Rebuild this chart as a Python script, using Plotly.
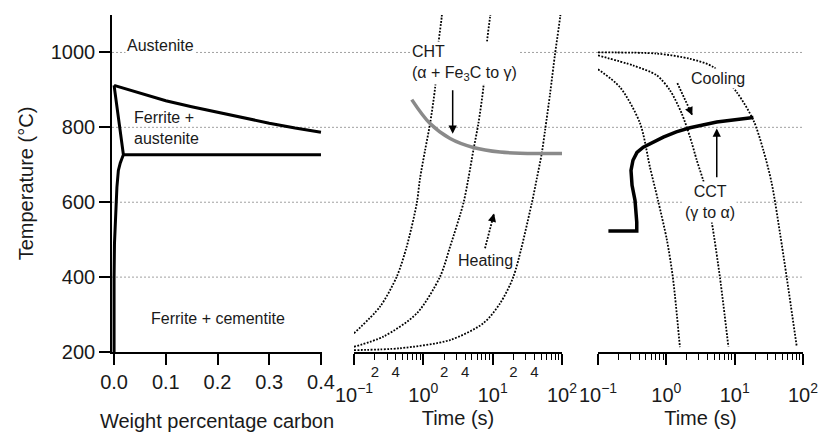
import numpy as np
import plotly.graph_objects as go

# ---------------- data ----------------
# Left panel: Fe-C phase diagram (wt% C, temperature degC)
a3_c = [0.0, 0.05, 0.1, 0.15, 0.2, 0.25, 0.3, 0.35, 0.4]
a3_T = [912, 891, 871, 855, 840, 825, 811, 798, 787]
a1_c = [0.018, 0.4]
a1_T = [727, 727]
fer_c = [0.0, 0.009, 0.018, 0.012, 0.0083, 0.0055, 0.0039, 0.0022, 0.0008, 0.0, 0.0]
fer_T = [912, 819, 727, 705, 685, 640, 597, 545, 490, 400, 200]

# Middle panel: heating curves (time s, temperature degC)
h1_t = [0.1, 0.237, 0.413, 0.575, 0.804, 0.895, 1.06, 1.25, 1.48, 1.65, 1.84, 1.87]
h1_T = [250, 321, 401, 481, 597, 663, 739, 810, 907, 1023, 1094, 1110]
h2_t = [0.1, 0.265, 0.804, 1.74, 2.43, 3.78, 4.46, 5.27, 6.22, 7.35, 8.22, 9.16, 9.4]
h2_T = [214, 241, 303, 401, 481, 597, 663, 739, 810, 907, 1023, 1094, 1110]
h3_t = [0.1, 0.461, 2.43, 7.35, 12.8, 19.9, 36.6, 43.3, 51.0, 57.0, 67.3, 79.4, 94.0, 96.0]
h3_T = [205, 210, 232, 277, 330, 401, 597, 663, 730, 792, 890, 996, 1094, 1110]
# CHT curve
cht_t = [0.681, 1.25, 2.43, 5.27, 12.8, 51.0, 100.0]
cht_T = [874, 810, 770, 746, 734, 730, 730]

# Right panel: cooling curves
c1_t = [0.1, 0.21, 0.412, 0.577, 0.755, 1.02, 1.25, 1.58]
c1_T = [955, 907, 811, 693, 605, 499, 397, 213]
c2_t = [0.1, 0.329, 0.723, 1.13, 1.68, 2.22, 2.79, 3.69, 4.62, 6.11, 8.09]
c2_T = [992, 965, 939, 899, 837, 774, 712, 641, 547, 397, 214]
c3_t = [0.1, 0.723, 2.22, 4.88, 10.7, 18.8, 26.3, 34.9, 46.2, 58.0, 81.1]
c3_T = [1000, 997, 983, 961, 894, 819, 739, 650, 516, 397, 214]
# CCT curve
cct_t = [0.142, 0.369, 0.369, 0.348, 0.315, 0.304, 0.325, 0.372, 0.46, 0.62, 0.904, 1.4, 2.22, 5.47, 18.8]
cct_T = [523, 523, 547, 605, 645, 685, 712, 733, 747, 760, 774, 788, 799, 814, 826]

# arrows (time, temperature): head and tail
cht_arrow = dict(head=(2.65, 783), tail=(2.65, 903))
cct_arrow = dict(head=(5.47, 797), tail=(5.47, 663))
heat_arrow = dict(head=(10.47, 570), tail=(7.76, 477))
cool_arrow = dict(head=(2.40, 832), tail=(1.45, 918))

# ticks
temp_ticks = [200, 400, 600, 800, 1000]
grid_temps = [400, 600, 800, 1000]
carbon_ticks = [0.0, 0.1, 0.2, 0.3, 0.4]
carbon_text = ["0.0", "0.1", "0.2", "0.3", "0.4"]
time_major = [0.1, 1, 10, 100]
time_major_text = ["10<sup>\u22121</sup>", "10<sup>0</sup>", "10<sup>1</sup>", "10<sup>2</sup>"]
time_minor = [m * d for d in (0.1, 1, 10) for m in range(2, 10)]
time_lab = [0.2, 0.4, 2, 4, 20, 40]
time_lab_text = ["2", "4", "2", "4", "2", "4"]

# ---------------- figure ----------------
FONT = "Liberation Sans, Arial, Helvetica, sans-serif"
TXT = "#1a1a1a"
fig = go.Figure()

blk = dict(color="black", width=3)
fig.add_trace(go.Scatter(x=a3_c, y=a3_T, mode="lines", line=blk, xaxis="x", yaxis="y"))
fig.add_trace(go.Scatter(x=a1_c, y=a1_T, mode="lines", line=blk, xaxis="x", yaxis="y"))
fig.add_trace(go.Scatter(x=fer_c, y=fer_T, mode="lines", line=blk, xaxis="x", yaxis="y"))

dot = dict(color="black", width=1.8, dash="1.8px,1.5px", shape="spline", smoothing=0.8)
for tt, TT in [(h1_t, h1_T), (h2_t, h2_T), (h3_t, h3_T)]:
    fig.add_trace(go.Scatter(x=tt, y=TT, mode="lines", line=dot, xaxis="x2", yaxis="y"))
fig.add_trace(go.Scatter(x=cht_t, y=cht_T, mode="lines",
                         line=dict(color="#8a8a8a", width=3.5, shape="spline"), xaxis="x2", yaxis="y"))
for tt, TT in [(c1_t, c1_T), (c2_t, c2_T), (c3_t, c3_T)]:
    fig.add_trace(go.Scatter(x=tt, y=TT, mode="lines", line=dot, xaxis="x3", yaxis="y"))
fig.add_trace(go.Scatter(x=cct_t, y=cct_T, mode="lines",
                         line=dict(color="black", width=3.5), xaxis="x3", yaxis="y"))

# dotted arrow shafts
for arr, xa in [(heat_arrow, "x2"), (cool_arrow, "x3")]:
    fig.add_trace(go.Scatter(x=[arr["tail"][0], arr["head"][0]], y=[arr["tail"][1], arr["head"][1]],
                             mode="lines", line=dict(color="black", width=1.8, dash="1.8px,1.5px"),
                             xaxis=xa, yaxis="y"))
# dummy trace to register overlay axis
fig.add_trace(go.Scatter(x=[], y=[], xaxis="x4", yaxis="y"))

annotations = []
def txt(x, y, text, xref="x", size=16, bg="white", xanchor="center", align="center"):
    annotations.append(dict(x=x, y=y, xref=xref, yref="y", text=text, showarrow=False,
                            font=dict(size=size, color=TXT, family=FONT), bgcolor=bg,
                            xanchor=xanchor, yanchor="middle", align=align, borderpad=1))

txt(0.089, 1019, "Austenite")
txt(0.035, 797, "Ferrite +<br>austenite", bg="rgba(0,0,0,0)", xanchor="left", align="left")
txt(0.2, 290, "Ferrite + cementite", bg="rgba(0,0,0,0)")
txt(np.log10(0.643), 971, "CHT<br>(\u03b1 + Fe<sub>3</sub>C to \u03b3)", xref="x2", xanchor="left", align="left")
txt(np.log10(7.98), 445, "Heating", xref="x2")
txt(np.log10(5.62), 930, "Cooling", xref="x3")
txt(np.log10(4.36), 601, "CCT<br>(\u03b3 to \u03b1)", xref="x3")

def arrow(arr, xref, frac=1.0):
    hx, hy = np.log10(arr["head"][0]), arr["head"][1]
    tx, ty = np.log10(arr["tail"][0]), arr["tail"][1]
    annotations.append(dict(x=hx, y=hy, xref=xref, yref="y",
                            ax=hx + frac * (tx - hx), ay=hy + frac * (ty - hy),
                            axref=xref, ayref="y", text="", showarrow=True,
                            arrowhead=2, arrowsize=1.1, arrowwidth=1.5, arrowcolor="black"))

arrow(cht_arrow, "x2")
arrow(cct_arrow, "x3")
arrow(heat_arrow, "x2", 0.12)
arrow(cool_arrow, "x3", 0.12)

shapes = [dict(type="line", xref="paper", x0=0, x1=1, yref="y", y0=T, y1=T, layer="below",
               line=dict(color="#a0a0a0", width=1, dash="2px,2px")) for T in grid_temps]

W, H = 822, 432
L, R, T, B = 112, 19, 15, 80
pw = W - L - R
def dom(a, b):
    return [(a - L) / pw, (b - L) / pw]

axis_common = dict(showgrid=False, zeroline=False, showline=True, linecolor="black", linewidth=1.6,
                   ticks="outside", tickcolor="black", tickwidth=1.5, automargin=False,
                   tickfont=dict(size=20, color=TXT, family=FONT))
time_axis = dict(axis_common, type="log", range=[-1, 2], tickmode="array",
                 tickvals=time_major, ticktext=time_major_text, ticklen=11,
                 ticklabelstandoff=13,
                 minor=dict(tickmode="array", tickvals=time_minor, ticks="outside", ticklen=6,
                            tickwidth=1.3, tickcolor="black", showgrid=False),
                 title=dict(text="Time (s)", font=dict(size=20, color=TXT, family=FONT), standoff=6))

fig.update_layout(
    width=W, height=H, margin=dict(l=L, r=R, t=T, b=B),
    paper_bgcolor="white", plot_bgcolor="white", showlegend=False,
    font=dict(family=FONT, color=TXT),
    xaxis=dict(axis_common, domain=dom(112, 322), range=[-0.004, 0.402], anchor="y",
               tickmode="array", tickvals=carbon_ticks, ticktext=carbon_text, ticklen=11,
               ticklabelstandoff=0,
               title=dict(text="Weight percentage carbon", font=dict(size=20, color=TXT, family=FONT),
                          standoff=22)),
    xaxis2=dict(time_axis, domain=dom(354, 562), anchor="y"),
    xaxis3=dict(time_axis, domain=dom(598, 803), anchor="y"),
    xaxis4=dict(type="log", range=[-1, 2], overlaying="x2", anchor="y", domain=dom(354, 562),
                showline=False, showgrid=False, zeroline=False, tickmode="array",
                tickvals=time_lab, ticktext=time_lab_text, ticks="outside", ticklen=6,
                tickwidth=1.3, tickcolor="black", automargin=False,
                tickfont=dict(size=15, color=TXT, family=FONT)),
    yaxis=dict(axis_common, domain=[0, 1], range=[200, 1100], anchor="x",
               tickmode="array", tickvals=temp_ticks, ticklen=11,
               title=dict(text="Temperature (\u00b0C)", font=dict(size=20, color=TXT, family=FONT),
                          standoff=12)),
    annotations=annotations,
    shapes=shapes,
)

fig.write_html("out.html")
